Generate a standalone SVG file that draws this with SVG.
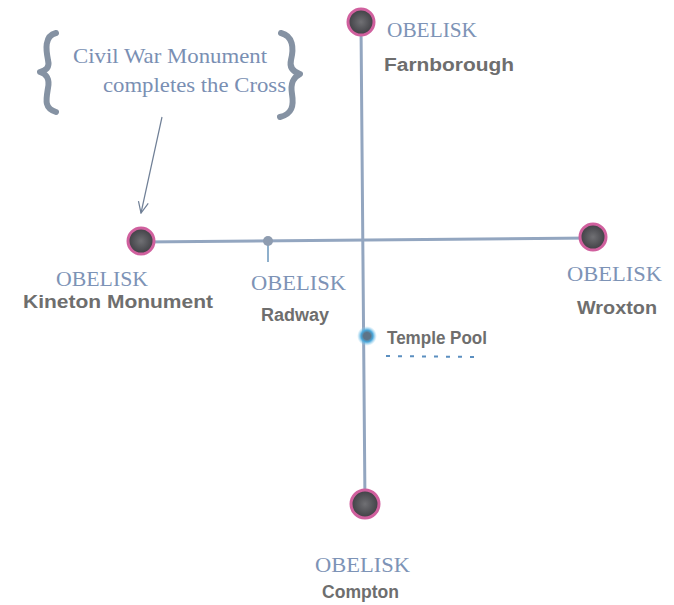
<svg xmlns="http://www.w3.org/2000/svg" width="674" height="605" viewBox="0 0 674 605">
<style>
.ob{font-family:"Liberation Serif","Times New Roman",serif;font-size:21px;fill:#7d93b6}
.nm{font-family:"Liberation Sans",Arial,sans-serif;font-weight:bold;font-size:18px;fill:#6e6e6e}
.co{font-family:"Liberation Serif","Times New Roman",serif;font-size:21px;fill:#7a8fb3}
.ln{stroke:#93a6c0;stroke-width:3;fill:none;stroke-linecap:round}
.ring{stroke:#d0609e;stroke-width:3}
.brace{fill:none;stroke:#8592a3;stroke-width:6;stroke-linecap:round;stroke-linejoin:round}
</style>
<defs>
<radialGradient id="g" cx="0.5" cy="0.5" r="0.5">
<stop offset="0" stop-color="#707074"/><stop offset="1" stop-color="#3f3f44"/>
</radialGradient>
<radialGradient id="blue" cx="0.5" cy="0.5" r="0.5">
<stop offset="0.35" stop-color="#5d7488"/><stop offset="0.6" stop-color="#4aa8dc"/><stop offset="1" stop-color="#9fd6f2" stop-opacity="0"/>
</radialGradient>
<marker id="arr" viewBox="0 0 12 12" refX="11" refY="6" markerWidth="12" markerHeight="12" orient="auto" markerUnits="userSpaceOnUse">
<path d="M0,1 L11,6 L0,11" fill="none" stroke="#6f7f96" stroke-width="1.2"/>
</marker>
</defs>
<rect width="674" height="605" fill="#ffffff"/>
<g id="connectors">
<path class="ln" d="M361,24 L365,504"/>
<path class="ln" d="M142,242 L592,238"/>
<path d="M268,244 L268,262" stroke="#8fb0cc" stroke-width="2"/>
<path d="M162,117 L141,213" stroke="#6f7f96" stroke-width="1.2" fill="none" marker-end="url(#arr)"/>
</g>
<g id="callout">
<path class="brace" d="M56,33 C44,36 46,50 48,60 C50,68 46,70 40,72 C46,74 50,78 48,88 C46,100 44,108 56,112"/>
<path class="brace" d="M281,33 C293,36 294,48 291,60 C289,68 294,72 300,74 C294,77 290,82 292,94 C294,106 292,114 280,117"/>
<text class="co" x="73" y="63" textLength="194" lengthAdjust="spacingAndGlyphs">Civil War Monument</text>
<text class="co" x="103" y="92" textLength="183" lengthAdjust="spacingAndGlyphs">completes the Cross</text>
</g>
<g id="farnborough">
<circle class="ring" cx="361" cy="22" r="13" fill="url(#g)"/>
<text class="ob" x="387" y="37" textLength="90" lengthAdjust="spacingAndGlyphs">OBELISK</text>
<text class="nm" x="384" y="71" textLength="130" lengthAdjust="spacingAndGlyphs">Farnborough</text>
</g>
<g id="kineton">
<circle class="ring" cx="141" cy="241" r="13" fill="url(#g)"/>
<text class="ob" x="56" y="286" textLength="92" lengthAdjust="spacingAndGlyphs">OBELISK</text>
<text class="nm" x="23" y="308" textLength="190" lengthAdjust="spacingAndGlyphs">Kineton Monument</text>
</g>
<g id="radway">
<circle cx="268" cy="241" r="5" fill="#8e9cb0"/>
<text class="ob" x="251" y="290" textLength="95" lengthAdjust="spacingAndGlyphs">OBELISK</text>
<text class="nm" x="261" y="321" textLength="68" lengthAdjust="spacingAndGlyphs">Radway</text>
</g>
<g id="wroxton">
<circle class="ring" cx="593" cy="237" r="13" fill="url(#g)"/>
<text class="ob" x="567" y="281" textLength="95" lengthAdjust="spacingAndGlyphs">OBELISK</text>
<text class="nm" x="577" y="314" textLength="80" lengthAdjust="spacingAndGlyphs">Wroxton</text>
</g>
<g id="temple-pool">
<circle cx="367" cy="336" r="10" fill="url(#blue)"/>
<text class="nm" x="387" y="344" textLength="100" lengthAdjust="spacingAndGlyphs">Temple Pool</text>
<path d="M386,356 L480,357" stroke="#5b8fc0" stroke-width="2" stroke-dasharray="4 8" fill="none"/>
</g>
<g id="compton">
<circle class="ring" cx="365" cy="504" r="14" fill="url(#g)"/>
<text class="ob" x="315" y="572" textLength="95" lengthAdjust="spacingAndGlyphs">OBELISK</text>
<text class="nm" x="322" y="598" textLength="77" lengthAdjust="spacingAndGlyphs">Compton</text>
</g>
</svg>
